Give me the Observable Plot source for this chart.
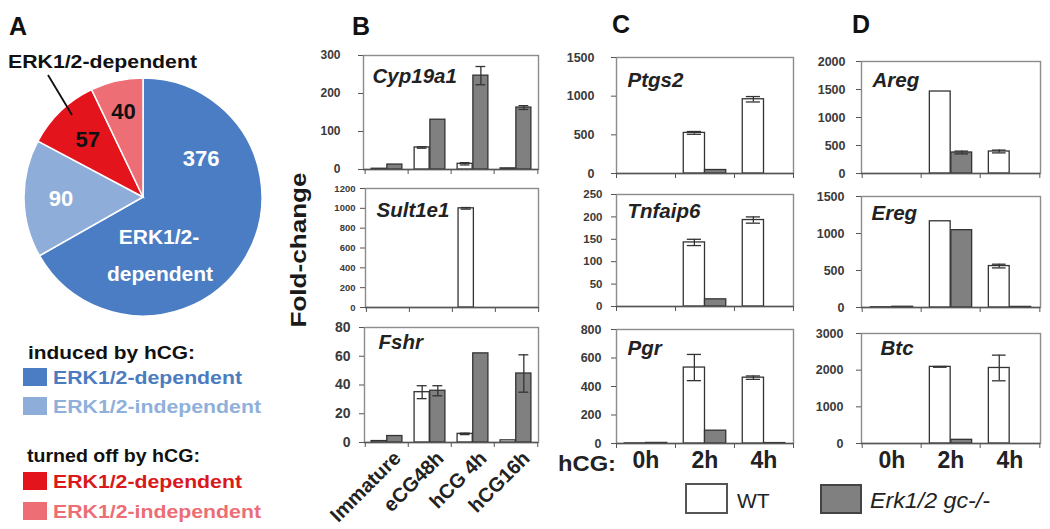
<!DOCTYPE html>
<html><head><meta charset="utf-8">
<script src="https://cdn.jsdelivr.net/npm/d3@7"></script>
<script src="https://cdn.jsdelivr.net/npm/@observablehq/plot@0.6"></script>
<style>
html,body{margin:0;padding:0;background:#fff;}
#fig{position:relative;width:1050px;height:529px;overflow:hidden;font-family:"Liberation Sans",Arial,sans-serif;}
#fig > svg{position:absolute;overflow:visible;}
</style></head><body><div id="fig"></div>
<script>
// ---------------- DATA ----------------
const pieNames  = ["induced, ERK1/2-dependent","induced, ERK1/2-independent","turned off, ERK1/2-dependent","turned off, ERK1/2-independent"];
const pieCounts = [376, 90, 57, 40];
const pieColors = ["#4a7dc3", "#8eadd9", "#e3141c", "#ee6e76"];
const legendTextColors = ["#4b7cc0", "#8fb0da", "#d9191c", "#ec6e74"];

const stagesB = ["Immature", "eCG48h", "hCG 4h", "hCG16h"];
const timesCD = ["0h", "2h", "4h"];

// Panel B
const cypWT  = [2, 58, 15, 3];     const cypWTe = [0, 2, 3, 0];
const cypKO  = [13, 131, 247, 163]; const cypKOe = [0, 0, 24, 5];
const sulWT  = [null, null, 1000, null]; const sulWTe = [0, 0, 8, 0];
const sulKO  = [null, null, null, null]; const sulKOe = [0, 0, 0, 0];
const fshWT  = [1, 35, 6, 1.5];    const fshWTe = [0, 4.5, 0.5, 0];
const fshKO  = [4.5, 36, 62, 48];  const fshKOe = [0, 3.5, 0, 13];
// Panel C
const ptgWT  = [null, 525, 960];   const ptgWTe = [0, 18, 35];
const ptgKO  = [null, 45, null];   const ptgKOe = [0, 0, 0];
const tnfWT  = [null, 143, 193];   const tnfWTe = [0, 7, 7];
const tnfKO  = [null, 16, null];   const tnfKOe = [0, 0, 0];
const pgrWT  = [1, 533, 462];      const pgrWTe = [0, 92, 12];
const pgrKO  = [4, 90, 3];         const pgrKOe = [0, 0, 0];
// Panel D
const aregWT = [null, 1464, 393];  const aregWTe = [0, 0, 25];
const aregKO = [null, 375, null];  const aregKOe = [0, 25, 0];
const eregWT = [3, 1165, 560];     const eregWTe = [0, 0, 25];
const eregKO = [10, 1045, 8];      const eregKOe = [0, 0, 0];
const btcWT  = [null, 2090, 2060]; const btcWTe = [0, 10, 350];
const btcKO  = [null, 100, null];  const btcKOe = [0, 0, 0];

// ---------------- LAYOUT ----------------
const FONT = '"Liberation Sans", Arial, sans-serif';
const fig = document.getElementById("fig");
function place(svg, left, top) { svg.style.left = left + "px"; svg.style.top = top + "px"; fig.appendChild(svg); }

const charts = [
  {gene:"Cyp19a1", cats:stagesB, wt:cypWT, wtErr:cypWTe, ko:cypKO, koErr:cypKOe, fx:363, fy:55,  fw:175, fh:114, ymax:300,  step:100,  fs:12,  pad:18, gx:9,  gy:13},
  {gene:"Sult1e1", cats:stagesB, wt:sulWT, wtErr:sulWTe, ko:sulKO, koErr:sulKOe, fx:365, fy:188, fw:173, fh:119, ymax:1200, step:200,  fs:9.5, pad:5,  gx:11, gy:14},
  {gene:"Fshr",    cats:stagesB, wt:fshWT, wtErr:fshWTe, ko:fshKO, koErr:fshKOe, fx:364, fy:327, fw:174, fh:115, ymax:80,   step:20,   fs:14,  pad:9,  gx:14, gy:7, xMode:"rot"},
  {gene:"Ptgs2",   cats:timesCD, wt:ptgWT, wtErr:ptgWTe, ko:ptgKO, koErr:ptgKOe, fx:616, fy:57,  fw:177, fh:116, ymax:1500, step:500,  fs:12.5, pad:17, gx:11, gy:15},
  {gene:"Tnfaip6", cats:timesCD, wt:tnfWT, wtErr:tnfWTe, ko:tnfKO, koErr:tnfKOe, fx:616, fy:194, fw:177, fh:112, ymax:250,  step:50,   fs:11.5, pad:9,  gx:11, gy:9},
  {gene:"Pgr",     cats:timesCD, wt:pgrWT, wtErr:pgrWTe, ko:pgrKO, koErr:pgrKOe, fx:616, fy:329, fw:177, fh:114, ymax:800,  step:200,  fs:12.5, pad:10, gx:11, gy:11, xMode:"time"},
  {gene:"Areg",    cats:timesCD, wt:aregWT, wtErr:aregWTe, ko:aregKO, koErr:aregKOe, fx:861, fy:61,  fw:179, fh:112, ymax:2000, step:500,  fs:12.5, pad:11, gx:11, gy:11},
  {gene:"Ereg",    cats:timesCD, wt:eregWT, wtErr:eregWTe, ko:eregKO, koErr:eregKOe, fx:861, fy:196, fw:179, fh:111, ymax:1500, step:500,  fs:12.5, pad:12, gx:10, gy:9},
  {gene:"Btc",     cats:timesCD, wt:btcWT, wtErr:btcWTe, ko:btcKO, koErr:btcKOe, fx:861, fy:333, fw:179, fh:110, ymax:3000, step:1000, fs:12.5, pad:13, gx:19, gy:7, xMode:"time"}
];

function drawBars(c) {
  const n = c.cats.length, bw = c.fw / n;
  const mL = 70, mR = 8, mT = 8, mB = c.xMode === "rot" ? 100 : c.xMode === "time" ? 40 : 12;
  const rows = c.cats.map((cat, i) => ({cat, wt: c.wt[i], wtErr: c.wtErr[i], ko: c.ko[i], koErr: c.koErr[i]}));
  const wtRows = rows.filter(d => d.wt != null), koRows = rows.filter(d => d.ko != null);
  const wtE = rows.filter(d => d.wtErr > 0), koE = rows.filter(d => d.koErr > 0);
  const edge = 0.14 * bw, half = 0.36 * bw, cap = 0.12 * bw;
  const wtC = edge + half / 2, koC = edge + half * 1.5;
  const ticks = d3.range(0, c.ymax + c.step / 2, c.step);
  const ink = "#333", sw = 1.3;
  const marks = [
    Plot.frame({stroke: "#8c8c8c", strokeWidth: 1.4}),
    Plot.barY(wtRows, {x: "cat", y: "wt", fill: "white", stroke: ink, strokeWidth: sw, insetLeft: edge, insetRight: bw - edge - half}),
    Plot.barY(koRows, {x: "cat", y: "ko", fill: "#808080", stroke: ink, strokeWidth: sw, insetLeft: edge + half, insetRight: edge}),
    Plot.ruleX(wtE, {x: "cat", y1: d => d.wt - d.wtErr, y2: d => d.wt + d.wtErr, dx: wtC - bw / 2, stroke: ink, strokeWidth: sw}),
    Plot.tickY(wtE, {x: "cat", y: d => d.wt - d.wtErr, insetLeft: wtC - cap, insetRight: bw - wtC - cap, stroke: ink, strokeWidth: sw}),
    Plot.tickY(wtE, {x: "cat", y: d => d.wt + d.wtErr, insetLeft: wtC - cap, insetRight: bw - wtC - cap, stroke: ink, strokeWidth: sw}),
    Plot.ruleX(koE, {x: "cat", y1: d => d.ko - d.koErr, y2: d => d.ko + d.koErr, dx: koC - bw / 2, stroke: ink, strokeWidth: sw}),
    Plot.tickY(koE, {x: "cat", y: d => d.ko - d.koErr, insetLeft: koC - cap, insetRight: bw - koC - cap, stroke: ink, strokeWidth: sw}),
    Plot.tickY(koE, {x: "cat", y: d => d.ko + d.koErr, insetLeft: koC - cap, insetRight: bw - koC - cap, stroke: ink, strokeWidth: sw}),
    Plot.ruleY([0], {stroke: "#555", strokeWidth: 1.4}),
    Plot.axisY({ticks, tickSize: 5, tickPadding: c.pad, fontSize: c.fs, fontWeight: "bold", fill: "#3a3a3a", stroke: "#555", tickFormat: d => String(d), label: null}),
    Plot.axisX({ticks: c.cats, tickSize: 5, tickFormat: () => "", dx: -bw / 2, stroke: "#555", label: null}),
    Plot.axisX({ticks: [c.cats[n - 1]], tickSize: 5, tickFormat: () => "", dx: bw / 2, stroke: "#555", label: null}),
    Plot.text([c.gene], {text: d => d, frameAnchor: "top-left", dx: c.gx, dy: c.gy, lineAnchor: "top", textAnchor: "start",
      fontSize: 20.5, fontWeight: "bold", fontStyle: "italic", fill: "#222"})
  ];
  if (c.xMode === "rot") {
    marks.push(Plot.text(c.cats, {x: d => d, text: d => d, frameAnchor: "bottom", rotate: -45, textAnchor: "end", lineAnchor: "bottom",
      dx: 15, dy: 17, fontSize: 20, fontWeight: "bold", fill: "#222"}));
  } else if (c.xMode === "time") {
    marks.push(Plot.axisX({tickSize: 0, tickPadding: 8, fontSize: 23, fontWeight: "bold", fill: "#222", label: null}));
  }
  const svg = Plot.plot({
    width: c.fw + mL + mR, height: c.fh + mT + mB,
    marginLeft: mL, marginRight: mR, marginTop: mT, marginBottom: mB,
    x: {type: "band", domain: c.cats, padding: 0},
    y: {domain: [0, c.ymax]},
    style: {fontFamily: FONT, background: "transparent", overflow: "visible"},
    marks
  });
  place(svg, c.fx - mL, c.fy - mT);
}
charts.forEach(drawBars);

// ---------------- PIE (panel A) ----------------
const pieW = 280, pieH = 270, pieTop = 60, cx = 143, cy = 197 - pieTop, R = 119;
const pieLabelLayout = [ // label placement: fixed polar spot for the big slice, centroid fraction for the others
  {a: 56, r: 70, fill: "#fff"}, {a: null, k: 0.69, fill: "#fff"}, {a: null, k: 0.67, fill: "#111"}, {a: null, k: 0.74, fill: "#111"}
];
const pieSvg = Plot.plot({
  width: pieW, height: pieH, margin: 0,
  style: {fontFamily: FONT, background: "transparent", overflow: "visible"},
  marks: [
    () => {
      const g = d3.create("svg:g").attr("transform", `translate(${cx},${cy})`);
      const arcs = d3.pie().sort(null).value(d => d)(pieCounts);
      const arc = d3.arc().innerRadius(0).outerRadius(R);
      g.selectAll("path").data(arcs).join("path")
        .attr("d", arc).attr("fill", (d, i) => pieColors[i])
        .attr("stroke", "#fff").attr("stroke-width", 1.5)
        .append("title").text((d, i) => `${pieNames[i]}: ${pieCounts[i]}`);
      arcs.forEach((d, i) => {
        const L = pieLabelLayout[i];
        let x, y;
        if (L.a != null) { const t = L.a * Math.PI / 180; x = Math.sin(t) * L.r; y = -Math.cos(t) * L.r; }
        else { const t = (d.startAngle + d.endAngle) / 2; x = Math.sin(t) * L.k * R; y = -Math.cos(t) * L.k * R; }
        g.append("text").attr("x", x).attr("y", y).attr("dy", "0.35em").attr("text-anchor", "middle")
          .attr("font-size", 22).attr("font-weight", "bold").attr("fill", L.fill).text(pieCounts[i]);
      });
      const t2 = g.append("text").attr("text-anchor", "middle").attr("font-size", 21).attr("font-weight", "bold").attr("fill", "#fff");
      t2.append("tspan").attr("x", 16).attr("y", 47).text("ERK1/2-");
      t2.append("tspan").attr("x", 17).attr("y", 84).text("dependent");
      return g.node();
    }
  ]
});
place(pieSvg, 0, pieTop);

// ---------------- OVERLAY TEXT / LEGENDS ----------------
const ov = d3.create("svg").attr("width", 1050).attr("height", 529)
  .style("left", "0px").style("top", "0px").style("font-family", FONT);
function txt(x, y, s, o = {}) {
  const t = ov.append("text").attr("x", x).attr("y", y).text(s)
    .attr("font-size", o.size || 18).attr("font-weight", o.weight || "bold")
    .attr("fill", o.fill || "#111");
  if (o.italic) t.attr("font-style", "italic");
  if (o.anchor) t.attr("text-anchor", o.anchor);
  if (o.len) t.attr("textLength", o.len).attr("lengthAdjust", "spacingAndGlyphs");
  if (o.transform) t.attr("transform", o.transform);
  return t;
}
// panel letters
txt(9, 35, "A", {size: 25}); txt(352, 35, "B", {size: 25}); txt(612, 33, "C", {size: 25}); txt(852, 33, "D", {size: 25});
// pie callout
txt(8, 68, "ERK1/2-dependent", {size: 18, len: 189});
ov.append("line").attr("x1", 48).attr("y1", 75).attr("x2", 72).attr("y2", 115).attr("stroke", "#111").attr("stroke-width", 1.8);
// pie legend
txt(28, 359, "induced by hCG:", {size: 18, len: 167});
txt(27, 462, "turned off by hCG:", {size: 18, len: 173});
const legRows = [
  {y: 368, base: 384, label: "ERK1/2-dependent"},
  {y: 397, base: 413, label: "ERK1/2-independent"},
  {y: 472, base: 488, label: "ERK1/2-dependent"},
  {y: 502, base: 518, label: "ERK1/2-independent"}
];
legRows.forEach((r, i) => {
  ov.append("rect").attr("x", 23).attr("y", r.y).attr("width", 24).attr("height", 18).attr("fill", pieColors[i]);
  txt(53, r.base, r.label, {size: 18, fill: legendTextColors[i], len: i % 2 ? 208 : 189});
});
// Fold-change
txt(0, 0, "Fold-change", {size: 22, anchor: "middle", len: 155, transform: "translate(306,250) rotate(-90)", fill: "#1a1a1a"});
// hCG:
txt(558, 471, "hCG:", {size: 22.5, len: 58, fill: "#222"});
// genotype legend
ov.append("rect").attr("x", 686).attr("y", 484).attr("width", 41).attr("height", 29).attr("fill", "#fff").attr("stroke", "#555").attr("stroke-width", 2);
txt(737, 508, "WT", {size: 21, weight: "normal", fill: "#222"});
ov.append("rect").attr("x", 821).attr("y", 485).attr("width", 40).attr("height", 28).attr("fill", "#808080").attr("stroke", "#444").attr("stroke-width", 2);
txt(870, 508, "Erk1/2 gc-/-", {size: 22, weight: "normal", italic: true, fill: "#222", len: 120});
place(ov.node(), 0, 0);
</script></body></html>
